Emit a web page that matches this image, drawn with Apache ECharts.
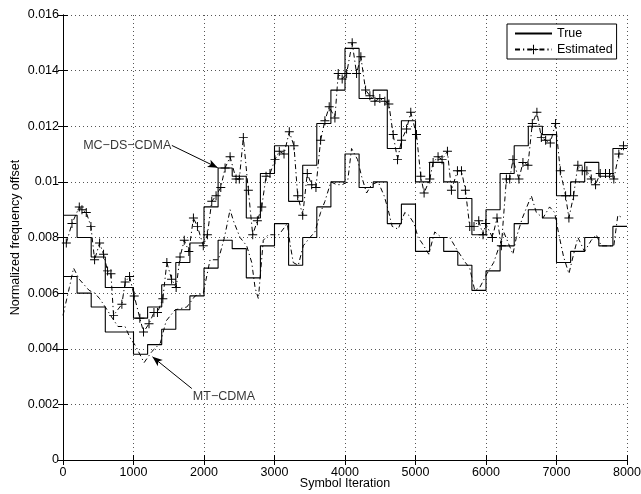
<!DOCTYPE html>
<html><head><meta charset="utf-8">
<script src="https://cdn.jsdelivr.net/npm/echarts@6/dist/echarts.min.js"></script>
<style>html,body{margin:0;padding:0;background:#fff}#c{width:641px;height:494px}</style>
</head><body><div id="c"></div>
<script>
// ---- data ----
const blockStarts = [0,200,400,600,800,1000,1200,1400,1600,1800,2000,2200,2400,2600,2800,3000,3200,3400,3600,3800,
  4000,4200,4400,4600,4800,5000,5200,5400,5600,5800,6000,6200,6400,6600,6800,7000,7200,7400,7600,7800];
const xEnd = 8000;
const mcTrue = [0.0088,0.0080,0.0073,0.0062,0.0062,0.0051,0.0055,0.0063,0.0071,0.0078,
  0.0091,0.0105,0.0102,0.0087,0.0103,0.0113,0.0093,0.0106,0.0121,0.0133,
  0.0148,0.0130,0.0133,0.0112,0.0122,0.0100,0.0107,0.0100,0.0094,0.0081,
  0.0090,0.0103,0.0113,0.0120,0.0117,0.0095,0.0100,0.0107,0.0102,0.0112];
const mtTrue = [0.0066,0.0060,0.0055,0.0046,0.0046,0.0038,0.00415,0.0047,0.0054,0.0059,
  0.0069,0.0079,0.0076,0.00655,0.0077,0.0085,0.0070,0.0080,0.0091,0.0100,
  0.0110,0.0098,0.0100,0.0085,0.0092,0.0075,0.0080,0.0075,0.0070,0.0061,
  0.0068,0.0077,0.0085,0.0090,0.0087,0.0071,0.0075,0.0080,0.0077,0.0084];
const mcEstX = [47,127,231,269,330,396,448,519,575,632,680,717,835,882,944,1010,1090,1142,1220,1290,1340,1416,1473,1540,1605,1660,1720,1785,1850,1907,
  1990,2048,2110,2171,2238,2299,2370,2455,2501,2558,2629,2691,2757,2819,2880,2936,3007,3068,3135,3210,3276,3329,3400,3465,3527,3588,3654,3715,3776,3857,
  3904,3960,4023,4102,4164,4225,4292,4353,4424,4494,4565,4622,4683,4745,4802,4873,4933,5014,5075,5122,5203,5250,5320,5377,5453,5510,5595,5652,5708,5769,
  5830,5897,5958,5996,6091,6156,6218,6289,6336,6382,6467,6524,6595,6657,6722,6785,6846,6912,6987,7054,7129,7176,7242,7303,7365,7431,7493,7554,7620,7695,
  7752,7813,7884,7950];
const mcEstY = [0.0078,0.0085,0.0091,0.0090,0.0089,0.0084,0.0072,0.0078,0.0074,0.0068,0.0067,0.0052,0.0056,0.0064,0.0066,0.0059,0.0051,0.0046,0.0049,0.0053,0.0053,0.0058,0.0071,0.0065,0.0062,0.0073,0.0079,0.0075,0.0087,0.0084,
  0.0077,0.0081,0.0093,0.0095,0.0098,0.0105,0.0109,0.0101,0.0101,0.0116,0.0097,0.0081,0.0086,0.0091,0.0102,0.0103,0.0108,0.0111,0.0110,0.0118,0.0113,0.0095,0.0088,0.0103,0.0099,0.0098,0.0115,0.0122,0.0127,0.0123,
  0.0139,0.0137,0.0139,0.0150,0.0139,0.0145,0.0133,0.0131,0.0129,0.0130,0.0129,0.0128,0.0117,0.0108,0.0115,0.0119,0.0125,0.0117,0.0102,0.0096,0.0101,0.0107,0.0109,0.0108,0.0111,0.0097,0.0104,0.0104,0.0097,0.0084,
  0.0084,0.0086,0.0081,0.0085,0.0080,0.0087,0.0077,0.0101,0.0101,0.0108,0.0101,0.0107,0.0106,0.0121,0.0125,0.0116,0.0115,0.0114,0.0121,0.0104,0.0095,0.0087,0.0095,0.0106,0.0104,0.0104,0.0101,0.0099,0.0103,0.0103,
  0.0103,0.0101,0.0110,0.0113];
const mtEstX = [0,90,150,230,300,370,450,520,600,700,780,880,950,1030,1090,1150,1260,1380,1463,1590,1756,1874,1990,2086,2204,2290,2370,2417,2511,2606,
  2677,2724,2771,2841,2912,2983,3064,3181,3219,3266,3337,3408,3502,3573,3654,3715,3800,3881,3960,4037,4093,4178,4235,4306,4377,4470,4555,4612,4669,4754,
  4848,4905,4980,5037,5093,5188,5273,5368,5486,5603,5708,5769,5840,5911,6014,6109,6204,6251,6382,6430,6516,6643,6714,6808,6902,6973,7034,7101,7176,7233,
  7303,7398,7493,7564,7634,7729,7813,7870,7941];
const mtEstY = [0.0052,0.0062,0.0069,0.0065,0.0063,0.0061,0.0060,0.0058,0.0055,0.0051,0.0048,0.0048,0.0044,0.0041,0.0038,0.0035,0.0039,0.0042,0.0050,0.0054,0.0055,0.0059,0.0060,0.0072,0.0072,0.0080,0.0090,0.0086,0.0080,0.0077,
  0.0071,0.0062,0.0058,0.0079,0.0081,0.0081,0.0081,0.0085,0.0078,0.0071,0.0070,0.0077,0.0080,0.0082,0.0089,0.0093,0.0100,0.0099,0.0099,0.0100,0.0112,0.0108,0.0102,0.0096,0.0099,0.0100,0.0095,0.0090,0.0084,0.0083,
  0.0089,0.0088,0.0085,0.0080,0.0078,0.0074,0.0082,0.0080,0.0080,0.0075,0.0071,0.0069,0.0061,0.0062,0.0067,0.0071,0.0078,0.0082,0.0074,0.0080,0.0087,0.0095,0.0089,0.0087,0.0091,0.0089,0.0081,0.0073,0.0067,0.0073,
  0.0080,0.0075,0.0079,0.0081,0.0077,0.0077,0.0077,0.0088,0.0087];
const xTickLabels = ['0','1000','2000','3000','4000','5000','6000','7000','8000'];
const yTickLabels = ['0','0.002','0.004','0.006','0.008','0.01','0.012','0.014','0.016'];
const seriesNames = ['True','Estimated'];
const labelMC = 'MC\u2212DS\u2212CDMA';
const labelMT = 'MT\u2212CDMA';
// annotation anchors (data coordinates)
const arrowMC = [[1544,0.01131],[2195,0.01051]];
const arrowMT = [[1827,0.00257],[1269,0.00371]];
const textMTAnchor = [1835,0.00227];

// ---- chart ----
const FONT = '"Liberation Sans", Arial, Helvetica, sans-serif';
const FS = 12.5;
const stepData = arr => blockStarts.map((x,i)=>[x,arr[i]]).concat([[xEnd,arr[arr.length-1]]]);
const zip = (xs,ys) => xs.map((x,i)=>[x,ys[i]]);
const plus = 'path://M4.45,0H5.55V4.45H10V5.55H5.55V10H4.45V5.55H0V4.45H4.45Z';
const dashDot = [5,3,1.2,3];
const gridLine = {show:true, lineStyle:{color:'#555', width:1, type:[1,3]}};
const axisCommon = {min:0, axisLine:{show:true,lineStyle:{color:'#000',width:1}},
  axisTick:{show:true,inside:true,length:5,lineStyle:{color:'#000'}}};

const chart = echarts.init(document.getElementById('c'), null, {renderer:'canvas'});
chart.setOption({
  animation:false,
  backgroundColor:'#fff',
  textStyle:{fontFamily:FONT},
  grid:{left:63,right:14,top:15,bottom:34,containLabel:false,outerBoundsMode:'none'},
  legend:{
    data:[{name:seriesNames[0], itemStyle:{opacity:0}}, {name:seriesNames[1]}],
    orient:'vertical', left:507, top:24,
    padding:[3,4,3,7], itemGap:3, itemWidth:37, itemHeight:12,
    backgroundColor:'#fff', borderColor:'#000', borderWidth:1,
    textStyle:{fontFamily:FONT,fontSize:FS,color:'#000',lineHeight:13}
  },
  xAxis:[
    Object.assign({type:'value', max:xEnd, interval:1000, position:'bottom',
      name:'Symbol Iteration', nameLocation:'middle', nameGap:17, nameMoveOverlap:false,
      nameTextStyle:{fontFamily:FONT,fontSize:FS,color:'#000'},
      axisLabel:{fontFamily:FONT,fontSize:FS,color:'#000',margin:6,
        formatter:(v)=>xTickLabels[Math.round(v/1000)]},
      splitLine:gridLine}, axisCommon),
    Object.assign({type:'value', max:xEnd, interval:1000, position:'top',
      axisLabel:{show:false}, splitLine:{show:false}}, axisCommon)
  ],
  yAxis:[
    Object.assign({type:'value', max:0.016, interval:0.002, position:'left',
      name:'Normalized frequency offset', nameLocation:'middle', nameGap:41, nameMoveOverlap:false,
      nameTextStyle:{fontFamily:FONT,fontSize:FS,color:'#000'},
      axisLabel:{fontFamily:FONT,fontSize:FS,color:'#000',margin:4,
        formatter:(v)=>yTickLabels[Math.round(v/0.002)]},
      splitLine:gridLine}, axisCommon),
    Object.assign({type:'value', max:0.016, interval:0.002, position:'right',
      axisLabel:{show:false}, splitLine:{show:false}}, axisCommon)
  ],
  series:[
    {name:'True', type:'line', step:'end', data:stepData(mcTrue), symbol:'none', showSymbol:false,
      lineStyle:{color:'#000',width:1.1}, itemStyle:{color:'#000'}, z:3,
      markLine:{silent:true, animation:false, label:{show:false},
        lineStyle:{color:'#000',width:1,type:'solid'},
        data:[
          [{coord:arrowMC[0],symbol:'none'},{coord:arrowMC[1],symbol:'arrow',symbolSize:[6,10]}],
          [{coord:arrowMT[0],symbol:'none'},{coord:arrowMT[1],symbol:'arrow',symbolSize:[6,10]}]
        ]}},
    {name:'Estimated', type:'line', data:zip(mcEstX,mcEstY), symbol:plus, symbolSize:9, showAllSymbol:true,
      lineStyle:{color:'#000',width:1,type:dashDot}, itemStyle:{color:'#000'}, z:4},
    {name:'True', type:'line', step:'end', data:stepData(mtTrue), symbol:'none', showSymbol:false,
      lineStyle:{color:'#000',width:1.1}, itemStyle:{color:'#000'}, z:3},
    {name:'Estimated', type:'line', data:zip(mtEstX,mtEstY), symbol:'none', showSymbol:false,
      lineStyle:{color:'#000',width:1,type:dashDot}, itemStyle:{color:'#000'}, z:4},
    {name:'annot', type:'scatter', silent:true, symbol:'circle', symbolSize:1,
      itemStyle:{color:'rgba(0,0,0,0)'},
      data:[
        {value:arrowMC[0], label:{show:true,position:'left',distance:0,formatter:labelMC}},
        {value:textMTAnchor, label:{show:true,position:'right',distance:0,formatter:labelMT}}
      ],
      label:{fontFamily:FONT,fontSize:FS,color:'#000'}, z:5}
  ]
});
</script></body></html>
